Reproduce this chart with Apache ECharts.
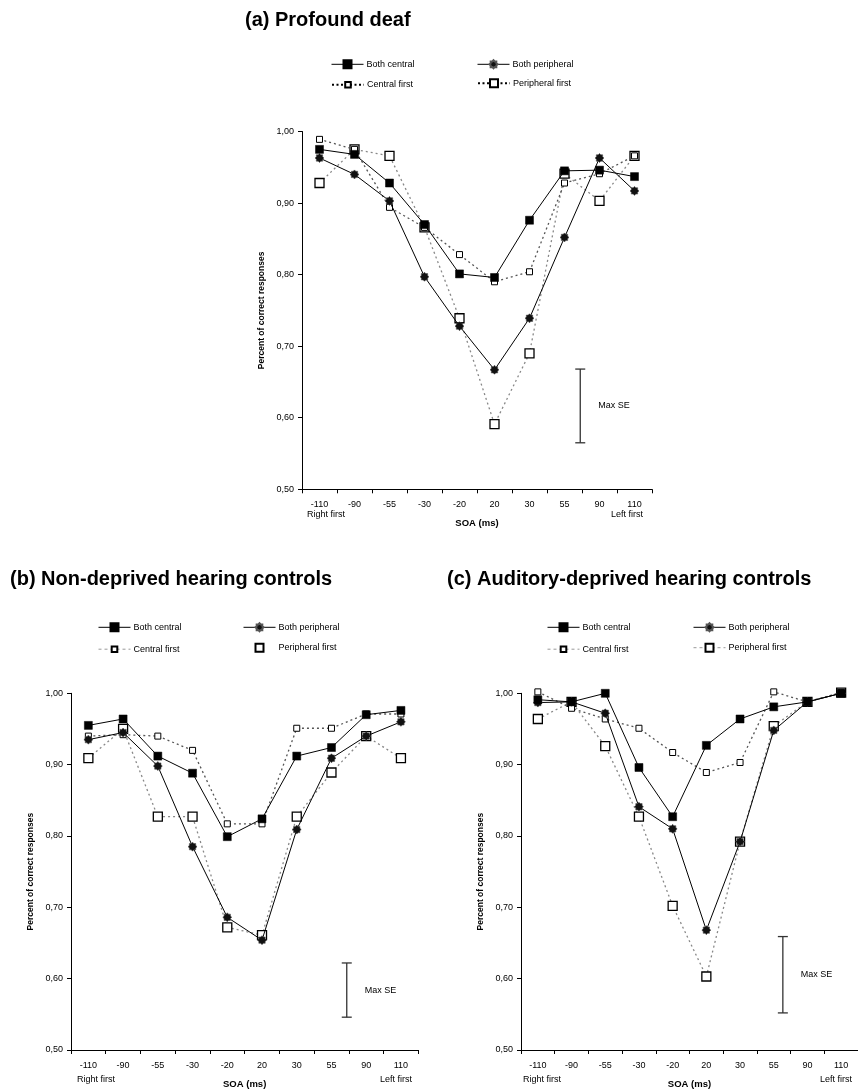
<!DOCTYPE html>
<html>
<head>
<meta charset="utf-8">
<script src="https://cdn.jsdelivr.net/npm/echarts@6/dist/echarts.min.js"></script>
<style>
  html, body { margin: 0; padding: 0; background: #fff; }
  #chart { width: 858px; height: 1091px; }
</style>
</head>
<body>
<div id="chart"></div>
<script>
// SOA categories (ms), shared by all three panels
const soaLabels = ['-110', '-90', '-55', '-30', '-20', '20', '30', '55', '90', '110'];
const yTickValues = [0.5, 0.6, 0.7, 0.8, 0.9, 1.0];

// (a) Profound deaf
const deafBothCentral      = [0.975, 0.968, 0.928, 0.870, 0.801, 0.796, 0.876, 0.945, 0.946, 0.937];
const deafBothPeripheral   = [0.963, 0.940, 0.903, 0.797, 0.728, 0.667, 0.739, 0.852, 0.963, 0.917];
const deafCentralFirst     = [0.989, 0.975, 0.894, 0.866, 0.828, 0.790, 0.804, 0.928, 0.941, 0.966];
const deafPeripheralFirst  = [0.928, 0.975, 0.966, 0.866, 0.739, 0.591, 0.690, 0.941, 0.903, 0.966];
const deafMaxSE            = [0.565, 0.668];

// (b) Non-deprived hearing controls
const ndBothCentral        = [0.955, 0.964, 0.912, 0.888, 0.799, 0.824, 0.912, 0.924, 0.970, 0.976];
const ndBothPeripheral     = [0.935, 0.945, 0.898, 0.785, 0.686, 0.654, 0.809, 0.909, 0.940, 0.960];
const ndCentralFirst       = [0.940, 0.942, 0.940, 0.920, 0.817, 0.817, 0.951, 0.951, 0.971, 0.971];
const ndPeripheralFirst    = [0.909, 0.950, 0.827, 0.827, 0.672, 0.661, 0.827, 0.889, 0.940, 0.909];
const ndMaxSE              = [0.546, 0.622];

// (c) Auditory-deprived hearing controls
const adBothCentral        = [0.991, 0.988, 1.000, 0.896, 0.827, 0.927, 0.964, 0.981, 0.988, 1.000];
const adBothPeripheral     = [0.987, 0.988, 0.972, 0.841, 0.810, 0.668, 0.792, 0.948, 0.988, 1.000];
const adCentralFirst       = [1.002, 0.979, 0.964, 0.951, 0.917, 0.889, 0.903, 1.002, 0.988, 1.001];
const adPeripheralFirst    = [0.964, 0.988, 0.926, 0.827, 0.702, 0.603, 0.792, 0.954, 0.988, 1.001];
const adMaxSE              = [0.552, 0.659];

const panelTitles = ['(a) Profound deaf', '(b) Non-deprived hearing controls', '(c) Auditory-deprived hearing controls'];
const seriesNames = ['Both central', 'Both peripheral', 'Central first', 'Peripheral first'];

const FONT = '"Liberation Sans", Arial, sans-serif';

// dense eight-point asterisk used for "Both peripheral"
function asteriskPath() {
  const pts = [];
  for (let k = 0; k < 16; k++) {
    const ang = Math.PI * k / 8 - Math.PI / 2;
    const r = (k % 2 === 0) ? 10 : 7.6;
    pts.push((10 + r * Math.cos(ang)).toFixed(2) + ',' + (10 + r * Math.sin(ang)).toFixed(2));
  }
  return 'path://M' + pts.join('L') + 'Z';
}
const ASTERISK = asteriskPath();

const panels = [
  { grid: { left: 302, top: 131.5, width: 350, height: 357.8 },
    data: [deafBothCentral, deafBothPeripheral, deafCentralFirst, deafPeripheralFirst], se: deafMaxSE, seFrac: 0.45,
    title: { left: 245, top: 10 },
    legendCols: [331, 477], legendRows: [64.3, 83.3],
    endLabelsY: 515, rightFirstX: 307, leftFirstX: 643,
    // legend samples for the two "first" conditions
    firstLegendLines: [{ color: '#000', width: 2, type: [2, 2.5] }, { color: '#000', width: 2, type: [2, 2.5] }] },
  { grid: { left: 71, top: 693.3, width: 347.3, height: 356.7 },
    data: [ndBothCentral, ndBothPeripheral, ndCentralFirst, ndPeripheralFirst], se: ndMaxSE, seFrac: 0.44,
    title: { left: 10, top: 569 },
    legendCols: [98, 243], legendRows: [627.3, 647.7],
    endLabelsY: 1080, rightFirstX: 77, leftFirstX: 412,
    firstLegendLines: [{ color: '#999', width: 1, type: [3, 3] }, { color: '#999', width: 1, opacity: 0 }] },
  { grid: { left: 521, top: 693.3, width: 345, height: 356.7 },
    data: [adBothCentral, adBothPeripheral, adCentralFirst, adPeripheralFirst], se: adMaxSE, seFrac: 0.27,
    title: { left: 447, top: 569 },
    legendCols: [547, 693], legendRows: [627.3, 647.7],
    endLabelsY: 1080, rightFirstX: 523, leftFirstX: 852,
    firstLegendLines: [{ color: '#999', width: 1, type: [3, 3] }, { color: '#999', width: 1, type: [3, 3] }] }
];

// visual style of each of the four conditions
const styles = [
  { symbol: 'rect', symbolSize: 8,
    itemStyle: { color: '#000', borderColor: '#000', borderWidth: 0.5 },
    lineStyle: { color: '#000', width: 1, type: 'solid' }, legendH: 10 },
  { symbol: ASTERISK, symbolSize: 9,
    itemStyle: { color: '#111', borderColor: '#555', borderWidth: 0.6 },
    lineStyle: { color: '#000', width: 1, type: 'solid' }, legendH: 10 },
  { symbol: 'rect', symbolSize: 6,
    itemStyle: { color: '#fff', borderColor: '#000', borderWidth: 1 },
    lineStyle: { color: '#555', width: 1.3, type: [2, 3] }, legendH: 7 },
  { symbol: 'rect', symbolSize: 9,
    itemStyle: { color: '#fff', borderColor: '#000', borderWidth: 1.3 },
    lineStyle: { color: '#888', width: 1.3, type: [2, 3] }, legendH: 10 }
];

function fmtComma(v) { return v.toFixed(2).replace('.', ','); }

function seRender(frac) {
  return function (params, api) {
    const idx = api.value(0), lo = api.value(1), hi = api.value(2);
    const a = api.coord([idx, hi]);
    const b = api.coord([idx + 1, lo]);
    const x = a[0] + (b[0] - a[0]) * frac;
    const yTop = a[1], yBot = b[1];
    const st = { stroke: '#333', lineWidth: 1.3 };
    return {
      type: 'group',
      children: [
        { type: 'line', shape: { x1: x, y1: yTop, x2: x, y2: yBot }, style: st },
        { type: 'line', shape: { x1: x - 5, y1: yTop, x2: x + 5, y2: yTop }, style: st },
        { type: 'line', shape: { x1: x - 5, y1: yBot, x2: x + 5, y2: yBot }, style: st },
        { type: 'text', style: { text: 'Max SE', x: x + 18, y: (yTop + yBot) / 2,
          verticalAlign: 'middle', align: 'left', fontSize: 9, fontFamily: FONT, fill: '#000' } }
      ]
    };
  };
}

const option = {
  backgroundColor: '#fff',
  animation: false,
  textStyle: { fontFamily: FONT },
  title: [], grid: [], xAxis: [], yAxis: [], series: [], legend: [], graphic: []
};

panels.forEach(function (p, pi) {
  option.title.push({
    text: panelTitles[pi], left: p.title.left, top: p.title.top, padding: 0,
    textStyle: { fontSize: 20, fontWeight: 'bold', color: '#000', fontFamily: FONT }
  });
  option.grid.push(p.grid);
  option.xAxis.push({
    type: 'category', gridIndex: pi, data: soaLabels, boundaryGap: true,
    name: 'SOA (ms)', nameLocation: 'middle', nameGap: 29,
    nameTextStyle: { fontSize: 9.5, fontWeight: 'bold', color: '#000', fontFamily: FONT },
    axisLine: { lineStyle: { color: '#000', width: 1 } },
    axisTick: { show: true, interval: 0, length: 4, lineStyle: { color: '#000' } },
    axisLabel: { interval: 0, fontSize: 9, color: '#000', margin: 11, fontFamily: FONT },
    splitLine: { show: false }
  });
  option.yAxis.push({
    type: 'value', gridIndex: pi, min: yTickValues[0], max: yTickValues[yTickValues.length - 1], interval: 0.1,
    name: 'Percent of correct responses', nameLocation: 'middle', nameRotate: 90, nameGap: 36,
    nameTextStyle: { fontSize: 8.5, fontWeight: 'bold', color: '#000', fontFamily: FONT },
    axisLine: { show: true, lineStyle: { color: '#000', width: 1 } },
    axisTick: { show: true, length: 4, lineStyle: { color: '#000' } },
    axisLabel: { fontSize: 9, color: '#000', margin: 8, formatter: fmtComma, fontFamily: FONT },
    splitLine: { show: false }
  });
  p.data.forEach(function (vals, si) {
    const s = styles[si];
    option.series.push({
      type: 'line', name: seriesNames[si], xAxisIndex: pi, yAxisIndex: pi,
      data: vals, symbol: s.symbol, symbolSize: s.symbolSize, showAllSymbol: true,
      itemStyle: s.itemStyle, lineStyle: s.lineStyle, clip: false,
      z: 10 - si, emphasis: { disabled: true }
    });
  });
  option.series.push({
    type: 'custom', name: 'Max SE', xAxisIndex: pi, yAxisIndex: pi, clip: false,
    renderItem: seRender(p.seFrac), encode: { x: 0, y: [1, 2] },
    data: [[7, p.se[0], p.se[1]]], silent: true
  });
  // legends: two columns, two rows
  seriesNames.forEach(function (nm, si) {
    const col = si % 2, row = Math.floor(si / 2);
    const h = styles[si].legendH;
    const item = { name: nm };
    item.lineStyle = si < 2 ? { color: '#000', width: 1, type: 'solid' } : p.firstLegendLines[si - 2];
    option.legend.push({
      data: [item], left: p.legendCols[col], top: p.legendRows[row] - h / 2,
      itemWidth: 32, itemHeight: h, padding: 0, selectedMode: false,
      textStyle: { fontSize: 9, color: '#000', fontFamily: FONT, lineHeight: 10, padding: [0, 0, 0, -2] }
    });
  });
  option.graphic.push(
    { type: 'text', left: p.rightFirstX, top: p.endLabelsY - 5,
      style: { text: 'Right first', fill: '#000', font: '9px ' + FONT } },
    { type: 'text', right: 858 - p.leftFirstX, top: p.endLabelsY - 5,
      style: { text: 'Left first', fill: '#000', font: '9px ' + FONT } }
  );
});

const chart = echarts.init(document.getElementById('chart'), null, { renderer: 'canvas' });
chart.setOption(option);
</script>
</body>
</html>
